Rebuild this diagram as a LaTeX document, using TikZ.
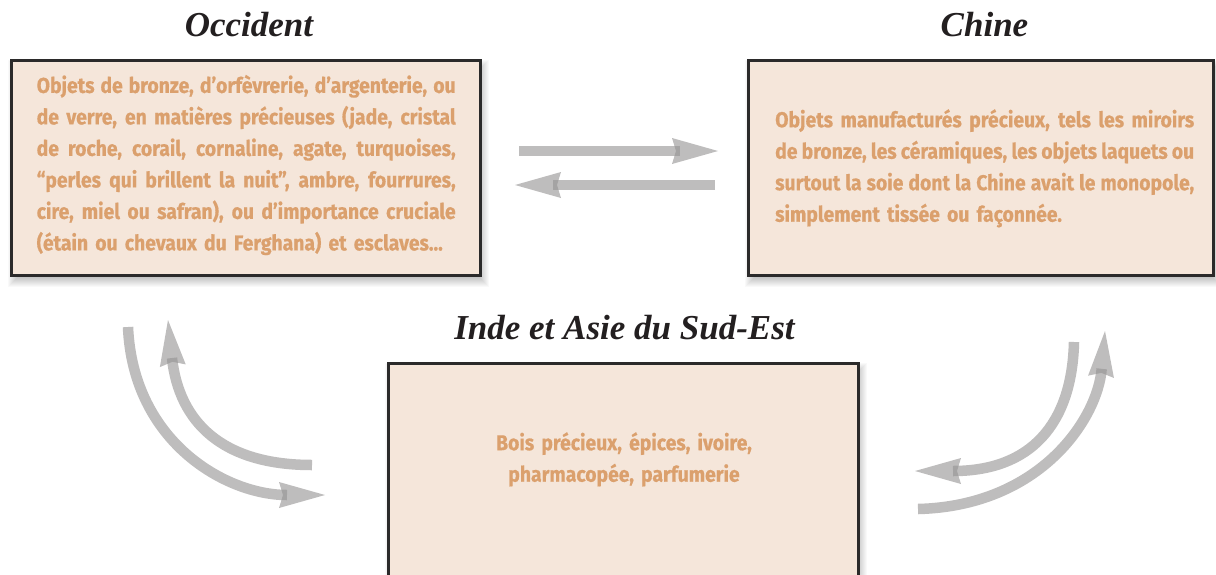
\documentclass[tikz,border=0pt]{standalone}
\usepackage{fontspec}
\newfontfamily\condfont{Fira Sans}[FakeStretch=0.9, BoldFeatures={FakeBold=0.6}]
\newfontfamily\titlefont{Liberation Serif}
\definecolor{boxfill}{HTML}{F5E6DA}
\definecolor{txtcol}{HTML}{DBA06D}
\definecolor{bordercol}{HTML}{2B2A2A}
\definecolor{titlecol}{HTML}{231F20}
\definecolor{arrowgray}{RGB}{148,146,146}
\newlength{\mystretchspace}
\newcommand{\fullline}[1]{{\setlength{\mystretchspace}{0.22em plus 1em minus 0.05em}\spaceskip=\mystretchspace\makebox[419pt][s]{#1}}}
\newcommand{\softshadow}[4]{%
  \foreach \r in {0,...,12}{%
    \fill[black, fill opacity=0.022] ({#1+10-\r}, {#2+13-\r}) rectangle ({#3-2+\r}, {#4+1+\r});
  }}
\newcommand{\headat}[2]{%
  \begin{scope}[shift={(#1)}, rotate=#2]
    \fill[headfill] (0,0) -- (-46,13) -- (-42,0) -- (-46,-13) -- cycle;
  \end{scope}}
\tikzset{
  boxnode/.style={draw=bordercol, line width=3pt, fill=boxfill, rectangle, inner sep=0pt, anchor=north west},
  titletext/.style={font=\titlefont\bfseries\itshape\fontsize{35}{40}\selectfont, text=titlecol, anchor=base, inner sep=0pt},
  bodytext/.style={font=\condfont\bfseries\fontsize{21.5}{31.5}\selectfont, text=txtcol, inner sep=0pt},
  shaft/.style={draw=arrowgray, draw opacity=0.6, line width=10.5pt},
  headfill/.style={fill=arrowgray, fill opacity=0.6},
}
\begin{document}
\begin{tikzpicture}[x=1pt, y=-1pt]
\clip (0,0) rectangle (1216,574);
\fill[white] (0,0) rectangle (1216,574);

% shadows
\softshadow{9.7}{59}{479.2}{273.5}
\softshadow{747.3}{59}{1211.7}{273.5}
\softshadow{386.7}{362}{856.7}{620}

% boxes
\node[boxnode, minimum width=469.5pt, minimum height=214.5pt] (occ) at (9.7,59) {};
\node[boxnode, minimum width=464.4pt, minimum height=214.5pt] (chi) at (747.3,59) {};
\node[boxnode, minimum width=470pt, minimum height=258pt] (ind) at (386.7,362) {};

% titles
\node[titletext] (occtitle) at (249,36) {Occident};
\node[titletext] (chititle) at (984.5,36) {Chine};
\node[titletext] (indtitle) at (624.5,339) {Inde et Asie du Sud-Est};

% texts
\node[bodytext, text width=419pt, align=left, anchor=north west] (occtext) at (36.5,72.7)
 {\rule{0pt}{20pt}\fullline{Objets de bronze, d’orfèvrerie, d’argenterie, ou}\\
  \fullline{de verre, en matières précieuses (jade, cristal}\\
  \fullline{de roche, corail, cornaline, agate, turquoises,}\\
  \fullline{“perles qui brillent la nuit”, ambre, fourrures,}\\
  \fullline{cire, miel ou safran), ou d’importance cruciale}\\
  (étain ou chevaux du Ferghana) et esclaves...};
\node[bodytext, text width=419pt, align=left, anchor=north west] (chitext) at (775,107)
 {\rule{0pt}{20pt}\fullline{Objets manufacturés précieux, tels les miroirs}\\
  \fullline{de bronze, les céramiques, les objets laquets ou}\\
  \fullline{surtout la soie dont la Chine avait le monopole,}\\
  simplement tissée ou façonnée.};
\node[bodytext, text width=320pt, align=center, anchor=north] (indtext) at (624,430)
 {\rule{0pt}{20pt}Bois précieux, épices, ivoire,\\
  pharmacopée, parfumerie};

% arrow coordinates
\coordinate (a1s) at (519,151);  \coordinate (a1e) at (680,151);  \coordinate (a1t) at (718,151);
\coordinate (a2s) at (715,185);  \coordinate (a2e) at (553,185);  \coordinate (a2t) at (515,185);
\coordinate (a3s) at (128,327);  \coordinate (a3e) at (287,495);  \coordinate (a3t) at (325,495);
\coordinate (a4s) at (312,465);  \coordinate (a4e) at (172,358);  \coordinate (a4t) at (168,320);
\coordinate (a5s) at (918,509);  \coordinate (a5e) at (1101.7,368.8); \coordinate (a5t) at (1105,331);
\coordinate (a6s) at (1074,342); \coordinate (a6e) at (953,471);  \coordinate (a6t) at (915,471);

% shafts
\draw[shaft] (a1s) -- (a1e);
\draw[shaft] (a2s) -- (a2e);
\draw[shaft] (a3s) .. controls (133,442) and (226,495) .. (a3e);
\draw[shaft] (a4s) .. controls (222,465) and (179,422) .. (a4e);
\draw[shaft] (a5s) .. controls (1040,506) and (1097.5,419) .. (a5e);
\draw[shaft] (a6s) .. controls (1072,425) and (1030,471) .. (a6e);

% heads
\headat{a1t}{0}
\headat{a2t}{180}
\headat{a3t}{0}
\headat{a4t}{96}
\headat{a5t}{85}
\headat{a6t}{180}
\end{tikzpicture}
\end{document}
